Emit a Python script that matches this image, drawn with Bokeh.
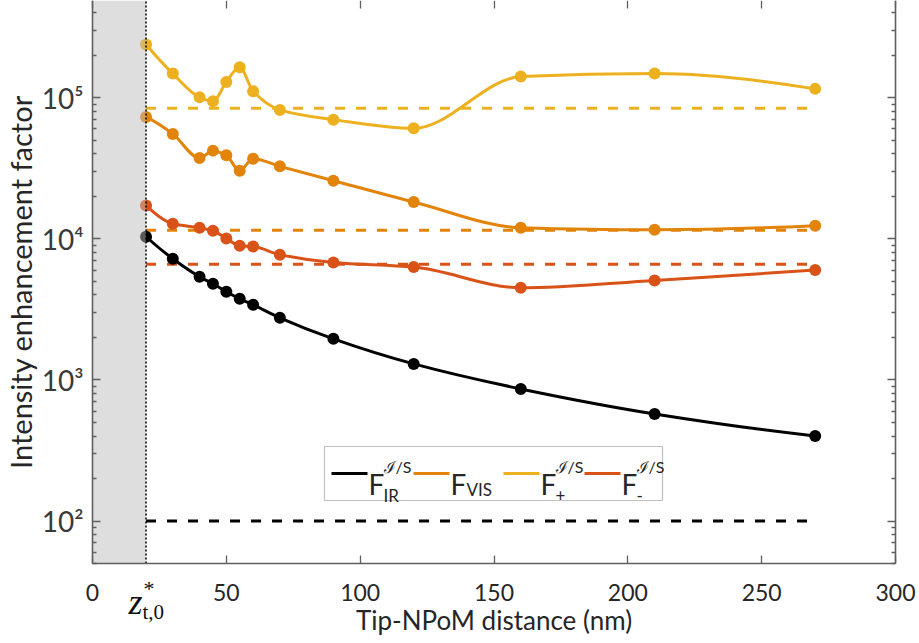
import numpy as np
from bokeh.plotting import figure
from bokeh.models import (LinearAxis, LogAxis, FixedTicker, BoxAnnotation,
                          Label, Range1d, ColumnDataSource)
from bokeh.embed import file_html
from bokeh.resources import INLINE

# Tip-NPoM distance (nm) and intensity enhancement factors
distance_nm = [20, 30, 40, 45, 50, 55, 60, 70, 90, 120, 160, 210, 270]
f_ir = [10330, 7210, 5375, 4795, 4210, 3753, 3404, 2752, 1953, 1298, 863, 574, 401]
f_vis = [72960, 55300, 37350, 42100, 38980, 30340, 36900, 32570, 25770, 18210,
         11970, 11580, 12370]
f_plus = [237700, 147900, 100500, 94150, 129200, 164000, 110900, 81800, 69800,
          60560, 140900, 147900, 115300]
f_minus = [17220, 12770, 11970, 11400, 10050, 8913, 8817, 7700, 6794, 6296,
           4490, 5063, 5998]

# constant reference levels (dashed)
level_ir = 100
level_vis = 11500
level_plus = 84000
level_minus = 6600

z_gap = 20  # z*_t,0

x_lo, x_hi = 0, 300
y_lo, y_hi = 50, 4.875e5
x_ticks = [0, 50, 100, 150, 200, 250, 300]
y_major = [100, 1000, 10000, 100000]
y_minor = [m * 10 ** e for e in range(1, 6) for m in range(2, 10)
           if y_lo <= m * 10 ** e <= y_hi]
y_labels = {100: "10²", 1000: "10³", 10000: "10⁴", 100000: "10⁵"}

C_IR = "#000000"
C_VIS = "#E2840A"
C_PLUS = "#EDB120"
C_MINUS = "#D95319"

TEXT = "#262626"
AXIS = "#5f5f5f"
FONT = "Lato"
SERIF = "Liberation Serif"

# canvas and axes box (pixels); the frame fills the canvas so that the axes,
# their labels and the composed tick label can all be drawn inside it
W, H = 919, 643
BOX_L, BOX_R, BOX_B, BOX_T = 92, 895, 563, 0
px_per_nm = (BOX_R - BOX_L) / (x_hi - x_lo)
px_per_dec = (BOX_B - BOX_T) / np.log10(y_hi / y_lo)
frame_x = (x_lo - BOX_L / px_per_nm, x_hi + (W - BOX_R) / px_per_nm)
frame_y = (y_lo / 10 ** ((H - BOX_B) / px_per_dec), y_hi * 10 ** (BOX_T / px_per_dec))


def pchip_beziers(xs, ys):
    """Shape-preserving cubic through the points, in log10(y), as Bezier pieces."""
    x = np.asarray(xs, float)
    ly = np.log10(np.asarray(ys, float))
    h = np.diff(x)
    d = np.diff(ly) / h
    n = len(x)
    m = np.zeros(n)
    for k in range(1, n - 1):
        if d[k - 1] * d[k] > 0:
            w1 = 2 * h[k] + h[k - 1]
            w2 = h[k] + 2 * h[k - 1]
            m[k] = (w1 + w2) / (w1 / d[k - 1] + w2 / d[k])

    def end(h0, h1, d0, d1):
        s = ((2 * h0 + h1) * d0 - h0 * d1) / (h0 + h1)
        if np.sign(s) != np.sign(d0):
            s = 0.0
        elif np.sign(d0) != np.sign(d1) and abs(s) > abs(3 * d0):
            s = 3 * d0
        return s

    m[0] = end(h[0], h[1], d[0], d[1])
    m[-1] = end(h[-1], h[-2], d[-1], d[-2])
    return dict(
        x0=x[:-1], y0=10 ** ly[:-1], x1=x[1:], y1=10 ** ly[1:],
        cx0=x[:-1] + h / 3, cy0=10 ** (ly[:-1] + m[:-1] * h / 3),
        cx1=x[1:] - h / 3, cy1=10 ** (ly[1:] - m[1:] * h / 3),
    )


p = figure(width=W, height=H, x_range=Range1d(*frame_x), y_range=Range1d(*frame_y),
           y_axis_type="log", output_backend="svg", toolbar_location=None,
           min_border=0)
p.outline_line_color = None
p.grid.visible = False
p.background_fill_color = "white"
p.border_fill_color = "white"


def style_ticks(ax, minor=True):
    ax.major_tick_in = 8
    ax.major_tick_out = 0
    ax.minor_tick_in = 4 if minor else 0
    ax.minor_tick_out = 0
    ax.axis_line_color = AXIS
    ax.axis_line_width = 1.6
    ax.major_tick_line_color = AXIS
    ax.minor_tick_line_color = AXIS
    ax.major_tick_line_width = 1.3
    ax.minor_tick_line_width = 1.3


# left / right log axes
yl = p.yaxis[0]
yl.fixed_location = x_lo
yr = LogAxis(fixed_location=x_hi)
p.add_layout(yr, "right")
for ax in (yl, yr):
    ax.bounds = (y_lo, y_hi)
    ax.ticker = FixedTicker(ticks=y_major, minor_ticks=y_minor)
    style_ticks(ax)
yl.major_label_overrides = y_labels
yl.major_label_text_font = FONT
yl.major_label_text_font_size = "28px"
yl.major_label_text_color = "#3a3a3a"
yl.major_label_standoff = 9
yl.axis_label = "Intensity enhancement factor"
yl.axis_label_text_font = FONT
yl.axis_label_text_font_size = "29px"
yl.axis_label_text_font_style = "normal"
yl.axis_label_text_color = TEXT
yl.axis_label_standoff = 1
yr.major_label_text_color = None

# bottom / top linear axes
xb = p.xaxis[0]
xb.fixed_location = y_lo
xt = LinearAxis(fixed_location=y_hi)
p.add_layout(xt, "above")
for ax in (xb, xt):
    ax.bounds = (x_lo, x_hi)
    ax.ticker = FixedTicker(ticks=x_ticks, minor_ticks=[])
    style_ticks(ax, minor=False)
xt.axis_line_color = None
xt.major_label_text_color = None
xb.major_label_text_font = FONT
xb.major_label_text_font_size = "23px"
xb.major_label_text_color = TEXT
xb.major_label_standoff = 20
xb.axis_label = "Tip-NPoM distance (nm)"
xb.axis_label_text_font = FONT
xb.axis_label_text_font_size = "26px"
xb.axis_label_text_font_style = "normal"
xb.axis_label_text_color = TEXT
xb.axis_label_standoff = 0

# dashed reference levels
for lvl, col in ((level_plus, C_PLUS), (level_vis, C_VIS),
                 (level_minus, C_MINUS), (level_ir, C_IR)):
    p.line([distance_nm[0], distance_nm[-1]], [lvl, lvl], line_color=col,
           line_width=3, line_dash="10 11")

# smooth curves with markers
for vals, col in ((f_plus, C_PLUS), (f_vis, C_VIS), (f_minus, C_MINUS), (f_ir, C_IR)):
    src = ColumnDataSource(pchip_beziers(distance_nm, vals))
    p.bezier(x0="x0", y0="y0", x1="x1", y1="y1", cx0="cx0", cy0="cy0",
             cx1="cx1", cy1="cy1", source=src, line_color=col, line_width=3)
    p.scatter(distance_nm, vals, size=12, fill_color=col, line_color=col,
              line_width=0)

# excluded gap region and its boundary
p.quad(left=[x_lo], right=[z_gap], bottom=[y_lo], top=[y_hi],
       fill_color="#bbbbbb", fill_alpha=0.48, line_color=None)
p.line([z_gap, z_gap], [y_lo, y_hi], line_color="black", line_width=1.5,
       line_dash="2 2")


def put(text, cx, cy, size, font=FONT, style="normal", color=TEXT, align="left",
        baseline="alphabetic"):
    p.add_layout(Label(x=cx, y=H - cy, x_units="screen", y_units="screen",
                       text=text, text_font=font, text_font_size=f"{size}px",
                       text_font_style=style, text_color=color,
                       text_align=align, text_baseline=baseline))


# tick label at the gap position
put("z", 142, 601, 36, font=SERIF, style="italic", color="#111111", align="right")
put("*", 143, 588, 22, font=SERIF, color="#111111")
put("t,0", 142, 611, 21, font=SERIF, color="#111111")

# legend
p.add_layout(BoxAnnotation(left=324, right=662, bottom=H - 500, top=H - 446,
                           left_units="screen", right_units="screen",
                           top_units="screen", bottom_units="screen",
                           fill_color="white", fill_alpha=1.0,
                           line_color="#333333", line_width=1.2))
entries = [
    (331, C_IR, "ℐ/S", "IR"),
    (413, C_VIS, None, "VIS"),
    (503, C_PLUS, "ℐ/S", "+"),
    (584, C_MINUS, "ℐ/S", "-"),
]
for x0, col, sup, sub in entries:
    p.add_layout(BoxAnnotation(left=x0, right=x0 + 36, bottom=H - 474.5,
                               top=H - 471.5,
                               left_units="screen", right_units="screen",
                               top_units="screen", bottom_units="screen",
                               fill_color=col, fill_alpha=1.0, line_color=None))
    put("F", x0 + 37, 483, 28)
    if sup:
        put(sup, x0 + 52, 466, 16)
        put(sub, x0 + 52, 495, 17)
    else:
        put(sub, x0 + 53, 489, 17)

open("out.html", "w").write(file_html(p, INLINE))
